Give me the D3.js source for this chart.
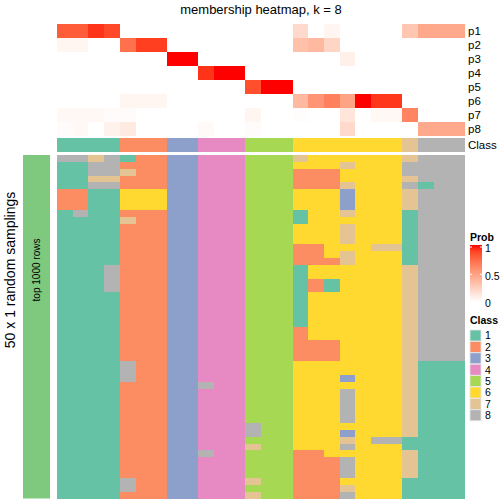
<!DOCTYPE html>
<html><head><meta charset="utf-8">
<script src="https://cdn.jsdelivr.net/npm/d3@7"></script>
<style>body{margin:0;background:#fff}svg{display:block;font-family:"Liberation Sans",Arial,sans-serif}</style>
</head><body>
<svg id="c" width="504" height="504"></svg>
<script>
const probRows = ["p1","p2","p3","p4","p5","p6","p7","p8"];
const p1 = [0.8,0.8,0.93,0.87,0,0,0,0,0,0,0,0,0,0,0,0.2,0,0.05,0,0,0,0,0.3,0.45,0.45,0.45];
const p2 = [0.05,0.05,0,0,0.72,0.9,0.9,0,0,0,0,0,0,0,0,0.33,0.37,0.22,0,0,0,0,0,0,0,0];
const p3 = [0,0,0,0,0,0,0,1,1,0,0,0,0,0,0,0,0,0,0.08,0,0,0,0,0,0,0];
const p4 = [0,0,0,0,0,0,0,0,0,0.93,1,1,0,0,0,0,0,0,0,0,0,0,0,0,0,0];
const p5 = [0,0,0,0,0,0,0,0,0,0,0,0,0.85,1,1,0,0,0,0,0,0,0,0,0,0,0];
const p6 = [0,0,0,0,0.05,0.05,0.05,0,0,0,0,0,0,0,0,0.37,0.55,0.65,0.48,1,0.92,0.92,0,0,0,0];
const p7 = [0.04,0.04,0.04,0.02,0.02,0,0,0,0,0,0,0,0.05,0,0,0.01,0,0,0.14,0,0.04,0.04,0.63,0,0,0];
const p8 = [0.02,0.04,0,0.07,0.11,0,0,0,0,0.03,0,0,0.02,0,0,0,0,0,0.2,0,0,0,0,0.45,0.45,0.45];
const classRow = [1,1,1,1,2,2,2,3,3,4,4,4,5,5,5,6,6,6,6,6,6,6,7,8,8,8];
// 50 random samplings x 26 samples, class per cell
const samplings = [
"88781223344455576666667888",
"11882223344455566676668888",
"11887223344455522266668888",
"11772223344455522266667888",
"11882223344455522276668188",
"22116663344455566636667888",
"22116663344455566636667888",
"22116663344455566636667888",
"18112223344455516676661888",
"11117223344455516666661888",
"11112223344455566676661888",
"11112223344455566676661888",
"11112223344455566676661888",
"11112223344455522666771888",
"11112223344455522676661888",
"11112223344455522276661888",
"11182223344455516666667888",
"11182223344455516666667888",
"11182223344455512166667888",
"11182223344455512166667888",
"11112223344455516666667888",
"11112223344455516666667888",
"11112223344455516666667888",
"11112223344455516666667888",
"11112223344455516666667888",
"11112223344455526666667888",
"11112223344455526666667888",
"11112223344455522266667888",
"11112223344455522266667888",
"11112223344455522266667888",
"11118223344455566666667111",
"11118223344455566666667111",
"11118223344455566636667111",
"11112223384455566666667111",
"11112223344455566686667111",
"11112223344455566686667111",
"11112223344455566686667111",
"11112223344455566686667111",
"11112223344455566686667111",
"11112223344485566666667111",
"11112223344485566636667111",
"11112223344455566676881111",
"11112223344475566686661111",
"11112223384455522666667111",
"11112223344455522286667111",
"11112223344455522286667111",
"11112223344455522286667111",
"11118223344475522266661111",
"11118223344455522276661111",
"11112223344475522286661111"
];
const classLabels = ["1","2","3","4","5","6","7","8"];
const classColors = ["#66C2A5","#FC8D62","#8DA0CB","#E78AC3","#A6D854","#FFD92F","#E5C494","#B3B3B3"];
const probTicks = [1,0.5,0];

const probData = [p1,p2,p3,p4,p5,p6,p7,p8];
const svg = d3.select("#c");
const nCol = classRow.length;
const x = d3.scaleBand().domain(d3.range(nCol)).range([57,465.2]);
const yTop = d3.scaleBand().domain(probRows).range([24,136]);
const yBot = d3.scaleBand().domain(d3.range(samplings.length)).range([155,498.5]);
const probColor = d3.scaleLinear().domain([0,1]).range(["#ffffff","#ff0000"]).interpolate(d3.interpolateLab);
const clsColor = d3.scaleOrdinal().domain([1,2,3,4,5,6,7,8]).range(classColors);

// title
svg.append("text").attr("x",261).attr("y",14).attr("text-anchor","middle")
  .attr("font-size",13).text("membership heatmap, k = 8");

function cellW(j){ return j < nCol-1 ? x.bandwidth()+0.8 : x.bandwidth(); }

// prob heatmap
probRows.forEach((r,i)=>{
  svg.append("g").attr("shape-rendering","crispEdges").selectAll("rect").data(probData[i]).join("rect")
    .attr("x",(d,j)=>x(j)).attr("y",yTop(r)).attr("width",(d,j)=>cellW(j))
    .attr("height",yTop.bandwidth()+(i<probRows.length-1?0.8:0))
    .attr("fill",d=>probColor(d));
  svg.append("text").attr("x",468).attr("y",yTop(r)+yTop.bandwidth()/2).attr("dy","0.36em")
    .attr("font-size",11.5).text(r);
});
// class row
svg.append("g").attr("shape-rendering","crispEdges").selectAll("rect").data(classRow).join("rect")
  .attr("x",(d,j)=>x(j)).attr("y",138).attr("width",(d,j)=>cellW(j)).attr("height",14)
  .attr("fill",d=>clsColor(d));
svg.append("text").attr("x",468).attr("y",145).attr("dy","0.36em").attr("font-size",11.5).text("Class");

// sampling grid
samplings.forEach((s,i)=>{
  svg.append("g").attr("shape-rendering","crispEdges").selectAll("rect").data(s.split("").map(Number)).join("rect")
    .attr("x",(d,j)=>x(j)).attr("y",yBot(i)).attr("width",(d,j)=>cellW(j))
    .attr("height",yBot.bandwidth()+(i<samplings.length-1?0.8:0))
    .attr("fill",d=>clsColor(d));
});

// left annotation
svg.append("rect").attr("x",23).attr("y",155).attr("width",27).attr("height",343.5).attr("fill","#7FC97F");
svg.append("text").attr("transform","translate(40,270) rotate(-90)").attr("text-anchor","middle")
  .attr("font-size",10).text("top 1000 rows");
svg.append("text").attr("transform","translate(15,270) rotate(-90)").attr("text-anchor","middle")
  .attr("font-size",14).text("50 x 1 random samplings");

// Prob legend
svg.append("text").attr("x",470).attr("y",240.5).attr("font-size",10.5).attr("font-weight","bold").text("Prob");
const defs = svg.append("defs");
const grad = defs.append("linearGradient").attr("id","pg").attr("x1",0).attr("y1",1).attr("x2",0).attr("y2",0);
d3.range(0,1.01,0.1).forEach(t=>grad.append("stop").attr("offset",t).attr("stop-color",probColor(t)));
const ly = d3.scaleLinear().domain([0,1]).range([303,248.5]);
svg.append("rect").attr("x",470).attr("y",245).attr("width",12).attr("height",57).attr("fill","url(#pg)");
probTicks.forEach(t=>{
  svg.append("text").attr("x",485).attr("y",ly(t)).attr("dy","0.36em").attr("font-size",10.5).text(t);
  if(t>0){
    svg.append("line").attr("x1",470).attr("x2",472).attr("y1",ly(t)-1.5).attr("y2",ly(t)-1.5).attr("stroke","#fff");
    svg.append("line").attr("x1",480).attr("x2",482).attr("y1",ly(t)-1.5).attr("y2",ly(t)-1.5).attr("stroke","#fff");
  }
});
// Class legend
svg.append("text").attr("x",470).attr("y",324).attr("font-size",10.5).attr("font-weight","bold").text("Class");
const lg = svg.append("g").selectAll("g").data(classLabels).join("g")
  .attr("transform",(d,i)=>`translate(470,${330+i*11.4})`);
lg.append("rect").attr("width",11).attr("height",11).attr("fill",(d,i)=>classColors[i]).attr("stroke","#e6e6e6").attr("stroke-width",0.8);
lg.append("text").attr("x",15).attr("y",5.7).attr("dy","0.36em").attr("font-size",10.5).text(d=>d);
</script>
</body></html>
